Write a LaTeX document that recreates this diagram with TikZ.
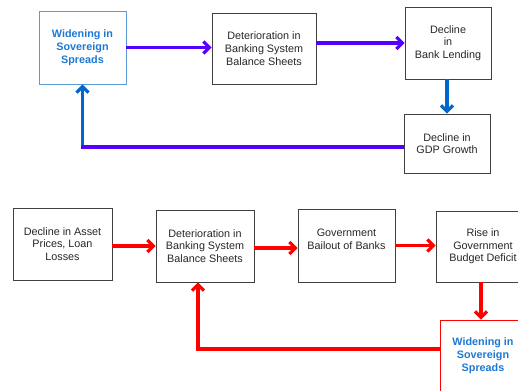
\documentclass[tikz,border=0pt]{standalone}
\usepackage{fontspec}
\setmainfont{Liberation Sans}
\usetikzlibrary{arrows.meta}
\definecolor{purp}{RGB}{85,0,255}
\definecolor{darrow}{RGB}{0,102,204}
\definecolor{btext}{RGB}{30,120,210}
\definecolor{bborder}{RGB}{91,155,213}
\definecolor{gborder}{RGB}{64,64,64}
\definecolor{rred}{RGB}{255,0,0}
\tikzset{
  box/.style={draw=gborder, line width=0.9pt, rectangle, align=center, inner sep=0pt,
    font=\fontsize{10.8}{12.7}\selectfont, text=black!85},
  bluebox/.style={box, draw=bborder, text=btext, font=\fontsize{10.8}{12.9}\selectfont\bfseries},
  redbox/.style={box, draw=rred, text=btext, font=\fontsize{10.8}{12.9}\selectfont\bfseries},
  conn/.style={line width=3.2pt, -{Straight Barb[length=6pt,width=12pt]}},
  seg/.style={line width=3.2pt},
}
\begin{document}
\begin{tikzpicture}[x=1pt,y=-1pt]
\useasboundingbox (0,0) rectangle (518,390);
% top cycle
\node[bluebox, minimum width=87pt, minimum height=73pt] (A) at (82.5,47.5) {Widening in\\Sovereign\\Spreads};
\node[box, minimum width=104pt, minimum height=71pt] (B) at (264,48.5) {Deterioration in\\Banking System\\Balance Sheets};
\node[box, minimum width=86pt, minimum height=72pt] (C) at (448,43) {Decline\\in\\Bank Lending};
\node[box, minimum width=86pt, minimum height=59pt] (D) at (447,143.5) {Decline in\\GDP Growth};
\draw[conn, purp] (A.east) -- (A.east -| B.west);
\draw[conn, purp] (C.west -| B.east) -- (C.west);
\draw[conn, darrow] (C.south -| D.north) -- (D.north);
\coordinate (dstart) at ([yshift=-3.5pt]D.west);
\coordinate (tcorner) at (A.south |- dstart);
\draw[seg, purp] (dstart) -- ([xshift=-1.6pt]tcorner);
\draw[conn, darrow] ([yshift=1.6pt]tcorner) -- (A.south);
% bottom cycle
\node[box, minimum width=99pt, minimum height=72pt] (E) at (62.5,244) {Decline in Asset\\Prices, Loan\\Losses};
\node[box, minimum width=98pt, minimum height=72pt] (F) at (205,246) {Deterioration in\\Banking System\\Balance Sheets};
\node[box, minimum width=97pt, minimum height=73pt] (G) at (346.5,245.5) {Government\\Bailout of Banks\\\phantom{B}};
\node[box, minimum width=94pt, minimum height=71pt] (H) at (483,246.5) {Rise in\\Government\\Budget Deficit};
\node[redbox, minimum width=86pt, minimum height=72pt] (I) at (483,356) {Widening in\\Sovereign\\Spreads};
\draw[conn, rred] (F.west -| E.east) -- (F.west);
\draw[conn, rred] ([yshift=-2pt]F.east) -- ([yshift=-2pt]F.east -| G.west);
\draw[conn, rred] (G.east) -- (G.east -| H.west);
\draw[conn, rred] ([xshift=-2pt]H.south) -- ([xshift=-2pt]H.south |- I.north);
\coordinate (fend) at ([xshift=-7pt]F.south);
\coordinate (istart) at ([yshift=7pt]I.west);
\draw[conn, rred] (istart) -| (fend);
\end{tikzpicture}
\end{document}
